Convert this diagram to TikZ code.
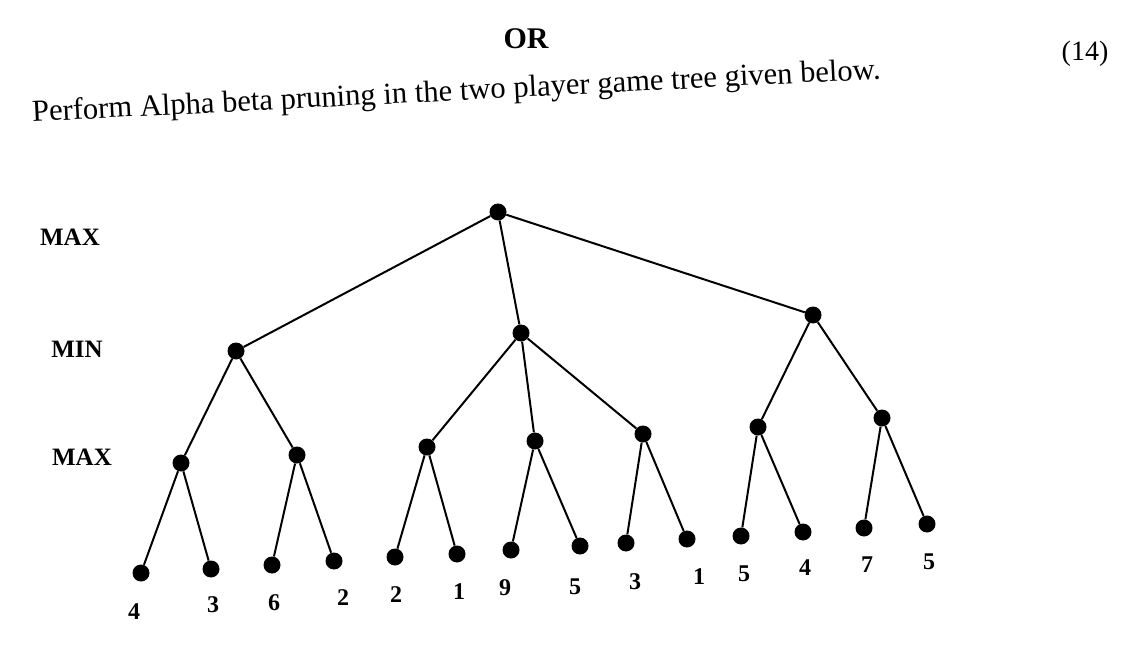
\documentclass[tikz,border=0pt]{standalone}
\usepackage{fontspec}
\setmainfont{Liberation Serif}

\def\dotsize{17pt}
\def\linew{2pt}

\begin{document}
\begin{tikzpicture}[x=1pt,y=-1pt,
    dot/.style={circle,fill=black,inner sep=0pt,minimum size=\dotsize},
    lvl/.style={font=\fontsize{25}{30}\selectfont\bfseries},
    val/.style={font=\fontsize{24}{28}\selectfont\bfseries},
    branch/.style={line width=\linew}]
    \useasboundingbox (0,0) rectangle (1144,663);

    % heading
    \node[font=\fontsize{30}{36}\selectfont\bfseries] (or) at (526,39) {OR};
    \node[font=\fontsize{28}{34}\selectfont] (marks) at (1085,54) {(14)};
    \node[font=\fontsize{30.6}{36}\selectfont,anchor=base west,rotate=2.9] (task) at (29,122)
    {Perform Alpha beta pruning in the two player game tree given below.};

    % levels
    \node[lvl] (lmax1) at (70,237) {MAX};
    \node[lvl] (lmin) at (77,349) {MIN};
    \node[lvl] (lmax2) at (82,457) {MAX};

    % tree
    \node[dot] (root) at (498,212) {};
    \node[dot] (m1) at (236,351) {};
    \node[dot] (m2) at (521,333) {};
    \node[dot] (m3) at (813,315) {};
    \node[dot] (a1) at (181,463) {};
    \node[dot] (a2) at (297,455) {};
    \node[dot] (a3) at (427,447) {};
    \node[dot] (a4) at (535,441) {};
    \node[dot] (a5) at (643,434) {};
    \node[dot] (a6) at (758,427) {};
    \node[dot] (a7) at (882,418) {};
    \node[dot] (t1) at (141,573) {};
    \node[dot] (t2) at (211,569) {};
    \node[dot] (t3) at (272,565) {};
    \node[dot] (t4) at (334,561) {};
    \node[dot] (t5) at (395,557) {};
    \node[dot] (t6) at (457,554) {};
    \node[dot] (t7) at (511,550) {};
    \node[dot] (t8) at (580,546) {};
    \node[dot] (t9) at (626,543) {};
    \node[dot] (t10) at (687,539) {};
    \node[dot] (t11) at (741,536) {};
    \node[dot] (t12) at (803,532) {};
    \node[dot] (t13) at (864,528) {};
    \node[dot] (t14) at (927,524) {};

    \draw[branch] (root) -- (m1) (root) -- (m2) (root) -- (m3);
    \draw[branch] (m1) -- (a1) (m1) -- (a2);
    \draw[branch] (m2) -- (a3) (m2) -- (a4) (m2) -- (a5);
    \draw[branch] (m3) -- (a6) (m3) -- (a7);
    \draw[branch] (a1) -- (t1) (a1) -- (t2) (a2) -- (t3) (a2) -- (t4);
    \draw[branch] (a3) -- (t5) (a3) -- (t6) (a4) -- (t7) (a4) -- (t8);
    \draw[branch] (a5) -- (t9) (a5) -- (t10) (a6) -- (t11) (a6) -- (t12);
    \draw[branch] (a7) -- (t13) (a7) -- (t14);

    % leaf values
    \node[val] (v1) at (134,612) {4};
    \node[val] (v2) at (213,605) {3};
    \node[val] (v3) at (274,603) {6};
    \node[val] (v4) at (343,598) {2};
    \node[val] (v5) at (396,595) {2};
    \node[val] (v6) at (459,592) {1};
    \node[val] (v7) at (505,588) {9};
    \node[val] (v8) at (575,587) {5};
    \node[val] (v9) at (635,582) {3};
    \node[val] (v10) at (699,577) {1};
    \node[val] (v11) at (744,574) {5};
    \node[val] (v12) at (805,568) {4};
    \node[val] (v13) at (867,565) {7};
    \node[val] (v14) at (929,562) {5};
\end{tikzpicture}
\end{document}
